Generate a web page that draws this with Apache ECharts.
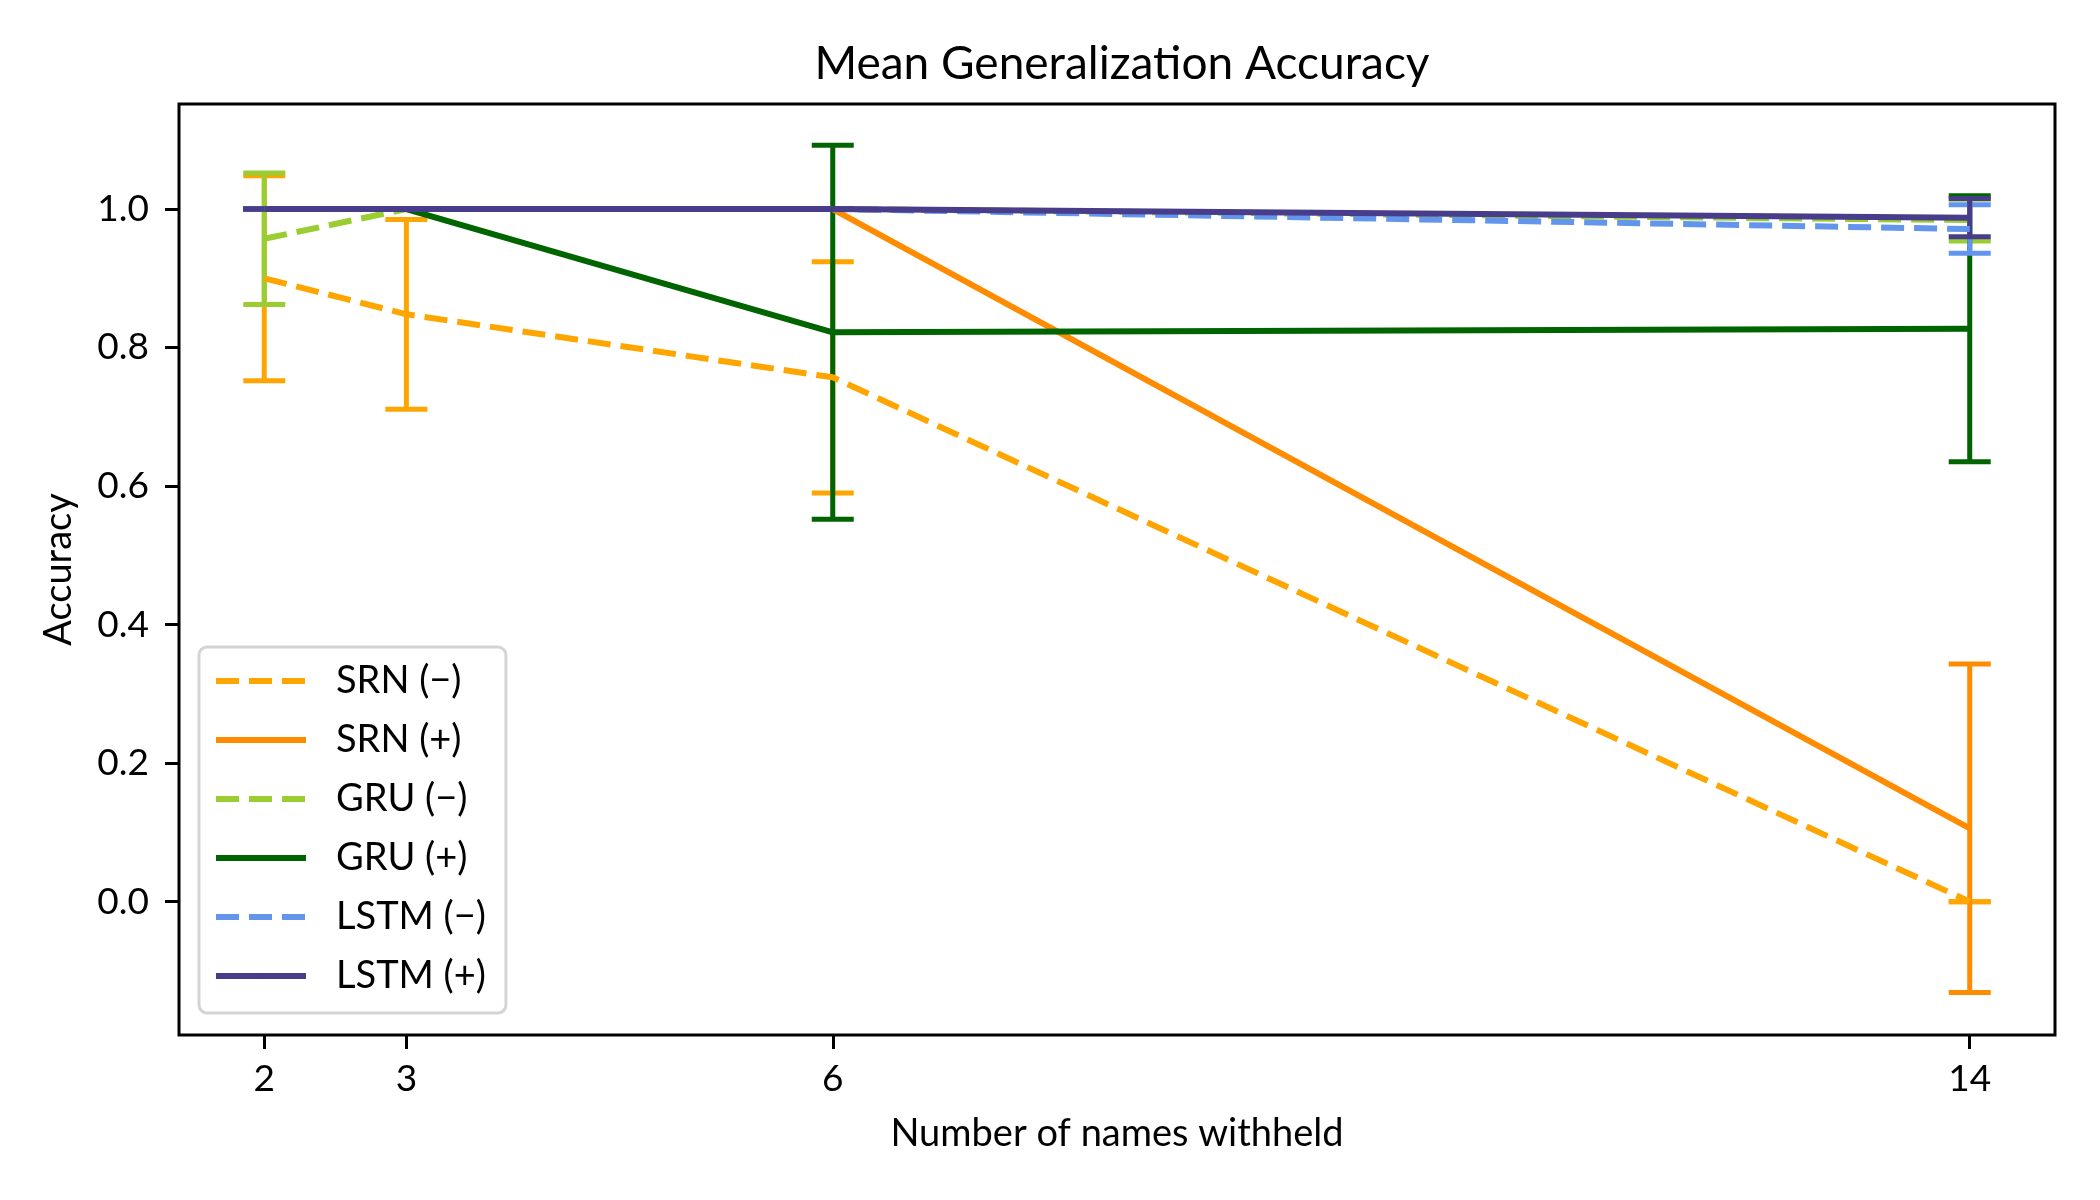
<!DOCTYPE html>
<html>
<head>
<meta charset="utf-8">
<script src="https://cdn.jsdelivr.net/npm/echarts@6/dist/echarts.min.js"></script>
<style>
html,body{margin:0;padding:0;background:#fff;}
#chart{width:2100px;height:1200px;}
</style>
</head>
<body>
<div id="chart"></div>
<script>
// ---- data ----
const xValues = [2, 3, 6, 14];
const xTicks = [2, 3, 6, 14];
const yTicks = [0.0, 0.2, 0.4, 0.6, 0.8, 1.0];

const seriesNames = ['SRN (\u2212)', 'SRN (+)', 'GRU (\u2212)', 'GRU (+)', 'LSTM (\u2212)', 'LSTM (+)'];
const srnMinusMean = [0.900, 0.848, 0.757, 0.000];
const srnMinusErr  = [0.148, 0.137, 0.167, 0.000];
const srnPlusMean  = [1.000, 1.000, 1.000, 0.106];
const srnPlusErr   = [0.000, 0.000, 0.000, 0.237];
const gruMinusMean = [0.957, 1.000, 1.000, 0.984];
const gruMinusErr  = [0.095, 0.000, 0.000, 0.030];
const gruPlusMean  = [1.000, 1.000, 0.822, 0.827];
const gruPlusErr   = [0.000, 0.000, 0.270, 0.192];
const lstmMinusMean = [1.000, 1.000, 1.000, 0.971];
const lstmMinusErr  = [0.000, 0.000, 0.000, 0.035];
const lstmPlusMean  = [1.000, 1.000, 1.000, 0.9875];
const lstmPlusErr   = [0.000, 0.000, 0.000, 0.0275];

// ---- styling ----
const FONT = 'Lato';
const colors = ['#FFA500', '#FF8C00', '#9ACD32', '#006400', '#6495ED', '#483D8B'];
const dashed = [true, false, true, false, true, false];
const means = [srnMinusMean, srnPlusMean, gruMinusMean, gruPlusMean, lstmMinusMean, lstmPlusMean];
const errs = [srnMinusErr, srnPlusErr, gruMinusErr, gruPlusErr, lstmMinusErr, lstmPlusErr];

function errRender(color) {
  return function (params, api) {
    const x = api.value(0), m = api.value(1), e = api.value(2);
    const top = api.coord([x, m + e]);
    const bot = api.coord([x, m - e]);
    const hw = 21;
    const style = { stroke: color, lineWidth: 5, fill: null };
    return {
      type: 'group',
      children: [
        { type: 'line', shape: { x1: top[0], y1: top[1], x2: bot[0], y2: bot[1] }, style: style },
        { type: 'line', shape: { x1: top[0] - hw, y1: top[1], x2: top[0] + hw, y2: top[1] }, style: style },
        { type: 'line', shape: { x1: bot[0] - hw, y1: bot[1], x2: bot[0] + hw, y2: bot[1] }, style: style }
      ]
    };
  };
}

const series = [];
seriesNames.forEach((name, i) => {
  series.push({
    name: name + ' err',
    type: 'custom',
    renderItem: errRender(colors[i]),
    data: xValues.map((x, k) => [x, means[i][k], errs[i][k]]),
    encode: { x: 0, y: 1 },
    z: 2,
    silent: true,
    clip: false
  });
});
seriesNames.forEach((name, i) => {
  series.push({
    name: name,
    type: 'line',
    data: xValues.map((x, k) => [x, means[i][k]]),
    symbol: 'none',
    showSymbol: false,
    z: 3 + i * 0.1,
    color: colors[i],
    lineStyle: { color: colors[i], width: 6, type: dashed[i] ? [23, 10] : 'solid' },
    animation: false
  });
});

const chart = echarts.init(document.getElementById('chart'), null, { renderer: 'canvas' });
chart.setOption({
  backgroundColor: '#ffffff',
  animation: false,
  title: {
    text: 'Mean Generalization Accuracy',
    left: 1117, textAlign: 'center',
    top: 36,
    textStyle: { fontFamily: FONT, fontSize: 46, fontWeight: 'normal', color: '#000' }
  },
  grid: {
    left: 179, right: 45, top: 104, bottom: 165,
    show: true, borderColor: '#000', borderWidth: 3, backgroundColor: 'transparent'
  },
  legend: {
    data: seriesNames,
    orient: 'vertical',
    left: 199, top: 647,
    padding: [14, 20, 17, 14],
    itemGap: 19,
    itemWidth: 90,
    itemHeight: 6,
    lineStyle: { width: 6 },
    backgroundColor: 'rgba(255,255,255,0.8)',
    borderColor: '#d4d4d4',
    borderWidth: 3,
    borderRadius: 8,
    textStyle: { fontFamily: FONT, fontSize: 38, color: '#000', lineHeight: 40, padding: [0, 0, 0, 25] },
    selectedMode: false
  },
  xAxis: {
    type: 'value',
    min: 1.4, max: 14.6,
    name: 'Number of names withheld',
    nameLocation: 'middle',
    nameGap: 80,
    nameTextStyle: { fontFamily: FONT, fontSize: 38, color: '#000' },
    axisLine: { show: false, onZero: false },
    axisTick: { show: true, inside: false, length: 14, lineStyle: { color: '#000', width: 3 }, customValues: xTicks },
    axisLabel: { show: true, margin: 26, fontFamily: FONT, fontSize: 37, color: '#000', customValues: xTicks, formatter: v => String(v) },
    splitLine: { show: false }
  },
  yAxis: {
    type: 'value',
    min: -0.1924, max: 1.1516,
    name: 'Accuracy',
    nameLocation: 'middle',
    nameGap: 101,
    nameRotate: 90,
    nameTextStyle: { fontFamily: FONT, fontSize: 38, color: '#000' },
    axisLine: { show: false, onZero: false },
    axisTick: { show: true, inside: false, length: 14, lineStyle: { color: '#000', width: 3 }, customValues: yTicks },
    axisLabel: { show: true, margin: 30, fontFamily: FONT, fontSize: 37, color: '#000', customValues: yTicks, formatter: v => v.toFixed(1) },
    splitLine: { show: false }
  },
  series: series
});
</script>
</body>
</html>
